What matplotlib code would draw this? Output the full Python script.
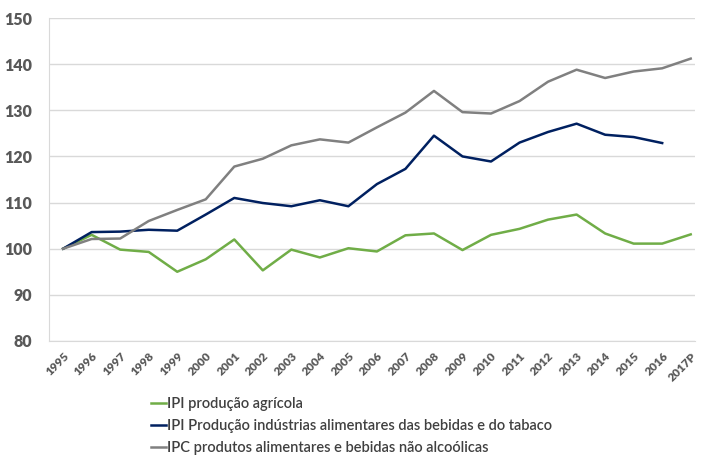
import matplotlib.pyplot as plt

plt.rcParams['font.family'] = ['Lato', 'DejaVu Sans']

years = ["1995", "1996", "1997", "1998", "1999", "2000", "2001", "2002", "2003",
         "2004", "2005", "2006", "2007", "2008", "2009", "2010", "2011", "2012",
         "2013", "2014", "2015", "2016", "2017P"]

ipi_agricola = [100, 103.0, 99.8, 99.3, 95.0, 97.7, 102.0, 95.3, 99.8, 98.1, 100.1,
                99.4, 102.9, 103.3, 99.7, 103.0, 104.3, 106.3, 107.4, 103.3, 101.1,
                101.1, 103.1]
ipi_industria = [100, 103.6, 103.7, 104.1, 103.9, 107.4, 111.0, 109.9, 109.2, 110.5,
                 109.2, 114.0, 117.3, 124.5, 120.0, 118.9, 123.0, 125.3, 127.1, 124.7,
                 124.2, 122.9]
ipc_alimentares = [100, 102.1, 102.2, 106.0, 108.4, 110.7, 117.8, 119.5, 122.4, 123.7,
                   123.0, 126.3, 129.5, 134.2, 129.6, 129.3, 132.0, 136.2, 138.8, 137.0,
                   138.4, 139.1, 141.2]

labels = ["IPI produção agrícola",
          "IPI Produção indústrias alimentares das bebidas e do tabaco",
          "IPC produtos alimentares e bebidas não alcoólicas"]

fig = plt.figure(figsize=(7.02, 4.62), dpi=100)
ax = fig.add_axes([0.07, 0.262, 0.92, 0.699])

x = list(range(len(years)))
ax.plot(x, ipi_agricola, color="#70AD47", lw=1.8, label=labels[0])
ax.plot(x[:len(ipi_industria)], ipi_industria, color="#002060", lw=1.8, label=labels[1])
ax.plot(x, ipc_alimentares, color="#808080", lw=1.8, label=labels[2])

ax.set_ylim(80, 150)
ax.set_yticks(range(80, 151, 10))
ax.set_xlim(-0.49, 22.15)
ax.set_xticks(x)
ax.set_xticklabels(years, rotation=45, ha="right", rotation_mode="anchor")

ax.grid(axis="y", color="#D9D9D9", lw=1)
ax.set_axisbelow(True)
for side in ["top", "right"]:
    ax.spines[side].set_visible(False)
ax.spines["left"].set_color("#D9D9D9")
ax.spines["bottom"].set_color("#D9D9D9")
ax.tick_params(axis="both", length=0, colors="#595959")
ax.tick_params(axis="y", labelsize=11.5, pad=12)
ax.tick_params(axis="x", labelsize=8.5, pad=7)
for t in ax.get_xticklabels() + ax.get_yticklabels():
    t.set_fontweight("heavy")

leg = fig.legend(loc="upper left", bbox_to_anchor=(0.215, 0.14), frameon=False,
                 fontsize=10.5, handlelength=1.0, handletextpad=0.1,
                 labelspacing=0.55, borderaxespad=0, borderpad=0)
for t in leg.get_texts():
    t.set_color("#404040")
    t.set_fontweight("semibold")

fig.savefig("out.png")
